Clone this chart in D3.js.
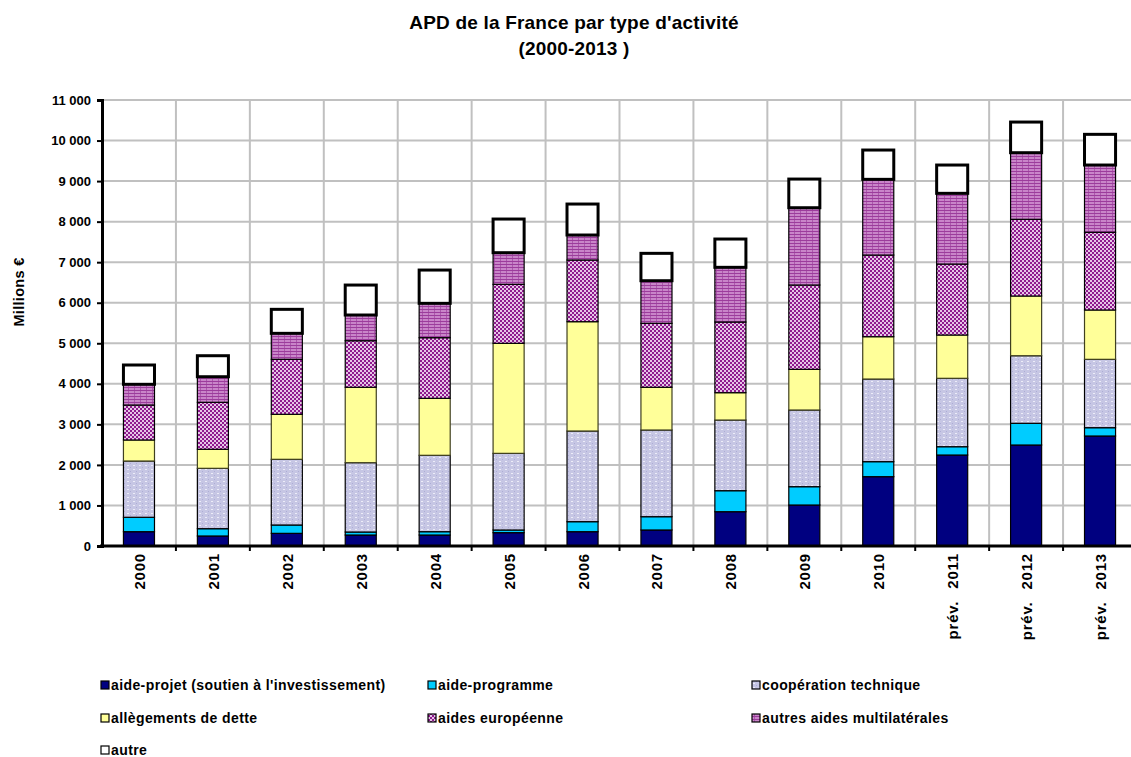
<html>
<head>
<meta charset="utf-8">
<script src="https://d3js.org/d3.v7.min.js"></script>
<style>
  body { margin: 0; background: #fff; }
  text { font-family: Arial, "Liberation Sans", sans-serif; font-weight: bold; fill: #000; }
</style>
</head>
<body>
<svg id="svg" width="1131" height="757"></svg>
<script>
// DATA (millions €)
const years = ["2000", "2001", "2002", "2003", "2004", "2005", "2006", "2007", "2008", "2009", "2010", "prév. 2011", "prév. 2012", "prév. 2013"]
const aideProjet = [353, 247, 312, 271, 271, 329, 353, 395, 846, 1011, 1710, 2244, 2491, 2713]
const aideProgramme = [355, 180, 206, 74, 82, 66, 247, 328, 518, 452, 370, 205, 535, 205]
const cooperation = [1388, 1489, 1620, 1710, 1884, 1890, 2236, 2138, 1743, 1891, 2038, 1687, 1667, 1686]
const allegements = [518, 469, 1110, 1859, 1405, 2713, 2696, 1053, 674, 1003, 1044, 1067, 1472, 1216]
const europeenne = [863, 1159, 1356, 1149, 1496, 1455, 1521, 1578, 1743, 2080, 2014, 1751, 1892, 1916]
const multilaterales = [511, 631, 641, 634, 847, 781, 617, 1051, 1349, 1906, 1867, 1744, 1643, 1660]
const autre = [476, 518, 592, 739, 821, 830, 764, 675, 698, 707, 723, 698, 756, 757]
const yTicks = [0, 1000, 2000, 3000, 4000, 5000, 6000, 7000, 8000, 9000, 10000, 11000]

const series = [
    { key: "projet", name: "aide-projet (soutien à l'investissement)", values: aideProjet, fill: "#000080" },
    { key: "programme", name: "aide-programme", values: aideProgramme, fill: "#00ccff" },
    { key: "coop", name: "coopération technique", values: cooperation, fill: "url(#pCoop)" },
    { key: "alleg", name: "allègements de dette", values: allegements, fill: "#ffff99" },
    { key: "europ", name: "aides européenne", values: europeenne, fill: "url(#pEurop)" },
    { key: "multi", name: "autres aides multilatérales", values: multilaterales, fill: "url(#pMulti)" },
    { key: "autre", name: "autre", values: autre, fill: "#ffffff" }
]

const table = years.map((yr, i) => {
    const row = { year: yr }
    series.forEach(s => row[s.key] = s.values[i])
    return row
})

// LAYOUT
const plotLeft = 102, plotRight = 1137, plotTop = 100, plotBottom = 546
const svg = d3.select("#svg")

// PATTERNS
const defs = svg.append("defs")
const coop = defs.append("pattern").attr("id", "pCoop").attr("patternUnits", "userSpaceOnUse")
    .attr("width", 6).attr("height", 4)
coop.append("rect").attr("width", 6).attr("height", 4).attr("fill", "#c6c6e4")
coop.append("rect").attr("x", 1).attr("y", 1).attr("width", 2).attr("height", 1).attr("fill", "#ececf8")
coop.append("rect").attr("x", 4).attr("y", 3).attr("width", 1).attr("height", 1).attr("fill", "#adadd6")

const europ = defs.append("pattern").attr("id", "pEurop").attr("patternUnits", "userSpaceOnUse")
    .attr("width", 4).attr("height", 4)
europ.append("rect").attr("width", 4).attr("height", 4).attr("fill", "#e6c4e6")
europ.append("rect").attr("width", 2).attr("height", 2).attr("fill", "#8e1a8e")
europ.append("rect").attr("x", 2).attr("y", 2).attr("width", 2).attr("height", 2).attr("fill", "#8e1a8e")

const multi = defs.append("pattern").attr("id", "pMulti").attr("patternUnits", "userSpaceOnUse")
    .attr("width", 6).attr("height", 3)
multi.append("rect").attr("width", 6).attr("height", 3).attr("fill", "#c985c9")
multi.append("rect").attr("y", 0).attr("width", 6).attr("height", 1).attr("fill", "#9c3c9c")
multi.append("rect").attr("x", 2).attr("y", 1).attr("width", 1).attr("height", 2).attr("fill", "#ab59ab")

// SCALES
const x = d3.scaleBand().domain(years).range([plotLeft, plotRight]).paddingInner(0).paddingOuter(0)
const y = d3.scaleLinear().domain([0, 11000]).range([plotBottom, plotTop])
const barW = x.bandwidth() * 0.42

// GRID
svg.append("g").selectAll("line").data(yTicks.slice(1)).join("line")
    .attr("x1", plotLeft).attr("x2", plotRight)
    .attr("y1", d => y(d)).attr("y2", d => y(d))
    .attr("stroke", "#c0c0c0").attr("stroke-width", 2)
svg.append("g").selectAll("line").data(years).join("line")
    .attr("x1", d => x(d) + x.bandwidth()).attr("x2", d => x(d) + x.bandwidth())
    .attr("y1", plotTop).attr("y2", plotBottom)
    .attr("stroke", "#c0c0c0").attr("stroke-width", 2)

// BARS
const stack = d3.stack().keys(series.map(s => s.key))(table)
const layers = svg.append("g").selectAll("g").data(stack).join("g")
    .attr("fill", (d, i) => series[i].fill)
    .attr("stroke", d => d.key === "alleg" ? "#404020" : "#000")
    .attr("stroke-width", d => d.key === "autre" ? 3 : 1.2)
layers.selectAll("rect").data(d => d).join("rect")
    .attr("x", d => x(d.data.year) + (x.bandwidth() - barW) / 2)
    .attr("y", d => y(d[1]))
    .attr("width", barW)
    .attr("height", d => y(d[0]) - y(d[1]))

// AXES
const yAxis = svg.append("g").attr("transform", `translate(${plotLeft},0)`)
    .call(d3.axisLeft(y).tickValues(yTicks).tickSize(5).tickPadding(6)
        .tickFormat(d => d3.format(",")(d).replace(/,/g, " ")))
yAxis.select(".domain").attr("stroke-width", 3)
yAxis.selectAll(".tick line").attr("stroke-width", 2)
yAxis.selectAll("text").style("font-size", "13px").style("letter-spacing", "0px")

const xAxis = svg.append("g").attr("transform", `translate(0,${plotBottom})`)
xAxis.append("line").attr("x1", plotLeft - 2).attr("x2", plotRight).attr("stroke", "#000").attr("stroke-width", 3)
xAxis.selectAll("line.t").data(years).join("line").attr("class", "t")
    .attr("x1", d => x(d) + x.bandwidth()).attr("x2", d => x(d) + x.bandwidth())
    .attr("y1", 0).attr("y2", 5).attr("stroke", "#000").attr("stroke-width", 2)
xAxis.selectAll("text").data(years).join("text")
    .attr("transform", d => `translate(${x(d) + x.bandwidth() / 2 + 6},7) rotate(-90)`)
    .attr("text-anchor", "end")
    .style("font-size", "15px")
    .style("letter-spacing", "0.8px")
    .style("word-spacing", "7px")
    .text(d => d)

// TITLES
svg.append("text").attr("x", 574).attr("y", 29).attr("text-anchor", "middle")
    .style("font-size", "19px").style("letter-spacing", "0.2px").text("APD de la France par type d'activité")
svg.append("text").attr("x", 574).attr("y", 55).attr("text-anchor", "middle")
    .style("font-size", "19px").style("letter-spacing", "0.2px").text("(2000-2013  )")
svg.append("text").attr("transform", "translate(24,292) rotate(-90)").attr("text-anchor", "middle")
    .style("font-size", "14.5px").style("letter-spacing", "0.3px").text("Millions €")

// LEGEND
const legendPos = [[101, 686], [428, 686], [752, 686], [101, 719], [428, 719], [752, 719], [101, 751]]
const legend = svg.append("g").selectAll("g").data(series).join("g")
    .attr("transform", (d, i) => `translate(${legendPos[i][0]},${legendPos[i][1]})`)
legend.append("rect").attr("x", 0).attr("y", -5).attr("width", 8).attr("height", 8)
    .attr("fill", d => d.fill).attr("stroke", "#000").attr("stroke-width", 1.2)
legend.append("text").attr("x", 10).attr("y", 4).style("font-size", "14px")
    .style("letter-spacing", "0.4px").text(d => d.name)
</script>
</body>
</html>
